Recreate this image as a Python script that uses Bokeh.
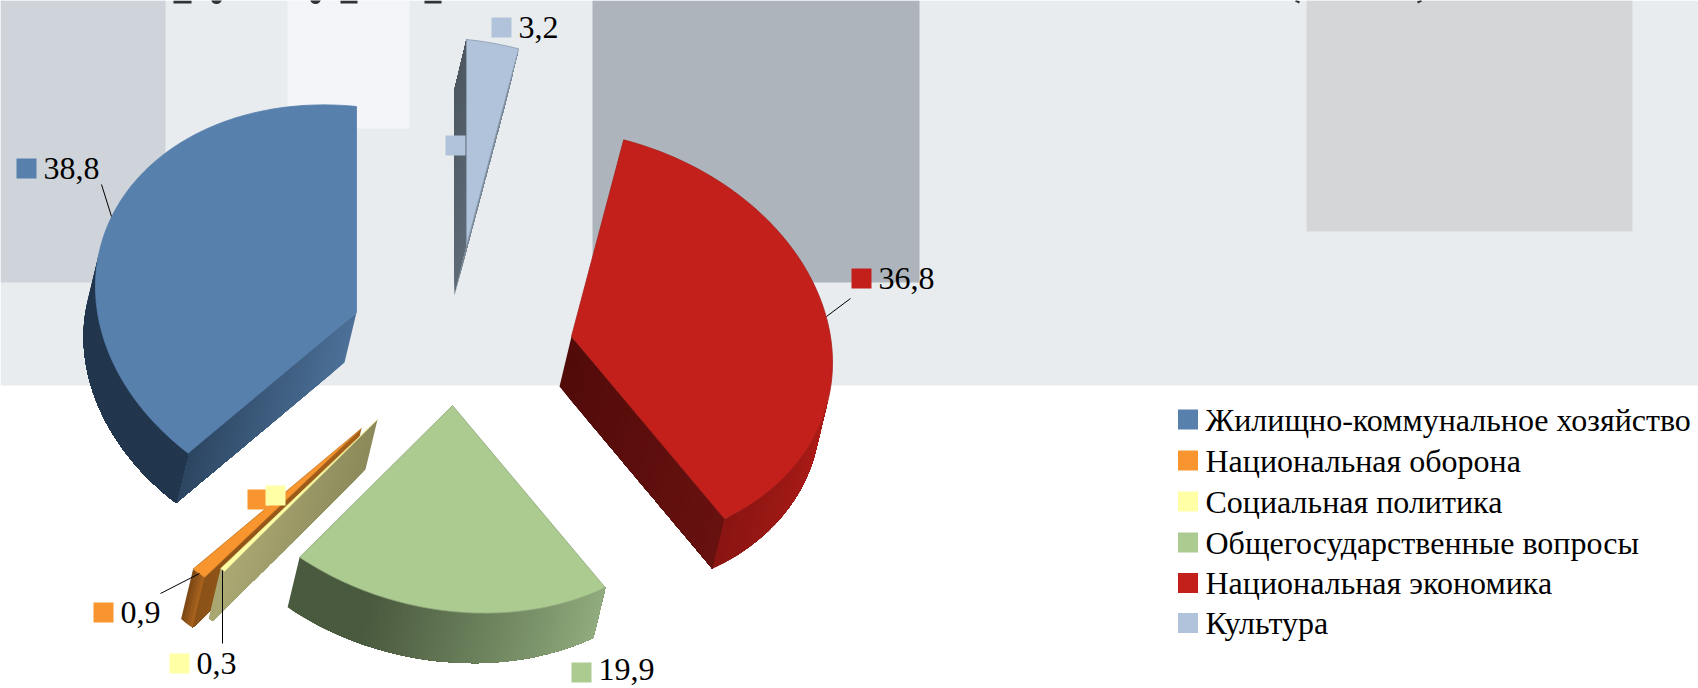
from bokeh.plotting import figure
from bokeh.embed import file_html
from bokeh.resources import INLINE
from bokeh.core.properties import value as bv
import math

categories = ["Жилищно-коммунальное хозяйство", "Национальная оборона", "Социальная политика",
              "Общегосударственные вопросы", "Национальная экономика", "Культура"]
values = [38.8, 0.9, 0.3, 19.9, 36.8, 3.2]
top_colors = ["#5880AD", "#F9952E", "#FFFFA6", "#ACCB90", "#C3201C", "#B0C3DA"]
edge_colors = ["#5880AD", "#C07826", "#E0E090", "#8FA67C", "#A8201C", "#8A9CB0"]

# projection of the tilted pie, px
RX, RY, SKEW = 261, 206, 26
DROP = (-12, 50)
apex_px = [(356, 312), (361, 428), (377, 419), (452, 405), (571, 336), (466, 245)]

# wall shading, (at apex, at rim)
wall_to_last = [("#4C7098", "#2C4560"), ("#A8601B", "#8A5218"), ("#8C8A5A", "#ABA974"),
                ("#3E4E34", "#4A5A3E"), ("#520B09", "#660F0C"), ("#5E6B77", "#4D5761")]
wall_to_first = [("#2E4865", "#2E4865"), ("#7F4A16", "#7F4A16"), ("#A9A772", "#A9A772"),
                 ("#4A5A3E", "#4A5A3E"), ("#520B09", "#681210"), ("#7A8896", "#7A8896")]
# rim shading along the visible arc
arc_walls = [("#22364D", "#22364D"), ("#7F4A16", "#A5601E"), ("#A9A772", "#A9A772"),
             ("#4A5A3E", "#90AB7D"), ("#8A1512", "#B01C18"), ("#7A8896", "#7A8896")]
arc_hold = [0.0, 0.0, 0.0, 0.25, 0.0, 0.0]


def mix(c1, c2, t):
    a = [int(c1[i:i + 2], 16) for i in (1, 3, 5)]
    b = [int(c2[i:i + 2], 16) for i in (1, 3, 5)]
    return "#%02x%02x%02x" % tuple(round(p + (q - p) * t) for p, q in zip(a, b))


def proj(theta, ox, oy):
    # theta: clockwise from top
    return (ox + RX * math.sin(theta), oy - RY * math.cos(theta) + SKEW * math.sin(theta))


p = figure(width=1698, height=688, x_range=(0, 1698), y_range=(688, 0), output_backend="svg",
           toolbar_location=None, x_axis_location=None, y_axis_location=None, min_border=0,
           outline_line_color=None, background_fill_color="white")
p.grid.visible = False

# background panels
p.quad(left=[0], right=[1698], top=[0], bottom=[385], fill_color="#E8ECEF", line_color=None)
p.quad(left=[0], right=[165], top=[0], bottom=[282], fill_color="#CFD4DA", line_color=None)
p.quad(left=[287], right=[409], top=[0], bottom=[128], fill_color="#F4F5F9", line_color=None)
p.quad(left=[592], right=[919], top=[0], bottom=[282], fill_color="#ADB4BB", line_color=None)
p.quad(left=[1306], right=[1632], top=[0], bottom=[231], fill_color="#D5D6D8", line_color=None)

# remnants of a title cut off by the top edge
INK = "#2F3338"
p.quad(left=[173, 340, 424], right=[191, 357, 441], top=[0, 0, 0], bottom=[3, 3, 3], fill_color=INK, line_color=None)
p.scatter([216, 315], [-2, -2], size=11, marker="circle", fill_color=INK, line_color=None)
p.line([1295, 1299], [0, 2], line_color=INK, line_width=2)
p.line([1421, 1417], [0, 2], line_color=INK, line_width=2)

total = sum(values)
start = 0.0
slices = []
for i, v in enumerate(values):
    # slices run counter-clockwise from the top
    sweep = v / total * 2 * math.pi
    slices.append((i, -start, -(start + sweep)))
    start += sweep


def faces(a, b):
    dx, dy = b[0] - a[0], b[1] - a[1]
    return -dy * DROP[0] + dx * DROP[1] > 0


order = [0, 5, 4, 1, 2, 3]
STRIPS = 48
for i in order:
    _, t0, t1 = slices[i]
    ox, oy = apex_px[i]
    n = max(4, int(abs(t1 - t0) / math.radians(1)))
    arc = [proj(t0 + (t1 - t0) * k / n, ox, oy) for k in range(n + 1)]

    def quad_wall(points, col, xs, ys, cs):
        # band running along a point path, dropped by the pie's thickness
        xs.append([q[0] for q in points] + [q[0] + DROP[0] for q in reversed(points)])
        ys.append([q[1] for q in points] + [q[1] + DROP[1] for q in reversed(points)])
        cs.append(col)

    xs, ys, cs = [], [], []

    def add_edge(a0, a1, c):
        pts = [(a0[0] + (a1[0] - a0[0]) * k / STRIPS, a0[1] + (a1[1] - a0[1]) * k / STRIPS)
               for k in range(STRIPS + 1)]
        # each band reaches to the end, later ones paint over it: no seams
        for k in range(STRIPS):
            quad_wall(pts[k:], mix(*c, k / STRIPS), xs, ys, cs)

    a0, a1, aN = (ox, oy), arc[0], arc[-1]
    if faces(aN, a0):
        add_edge(a0, aN, wall_to_last[i])
    if faces(a0, a1):
        add_edge(a0, a1, wall_to_first[i])
    vis = [k for k in range(n) if faces(arc[k], arc[k + 1])]
    if i in (4,):
        # rim starts at the red slice's corner
        pass
    runs = vis[::-1] if False else vis
    for idx in range(len(runs)):
        u = idx / max(1, len(runs) - 1)
        u = max(0.0, (u - arc_hold[i]) / (1 - arc_hold[i]))
        seg = runs[idx:]
        pts = [arc[k] for k in seg] + [arc[seg[-1] + 1]]
        quad_wall(pts, mix(*arc_walls[i], u), xs, ys, cs)
    if xs:
        p.patches(xs, ys, fill_color=cs, line_color=None)
    p.patch([ox] + [q[0] for q in arc], [oy] + [q[1] for q in arc],
            fill_color=top_colors[i], line_color=edge_colors[i], line_width=0.8)

FONT = bv("Liberation Serif")
# data labels
label_mark = [(26, 168), (103, 612), (179, 663), (581, 672), (861, 278), (501, 27)]
text_shift = [0, 0, 0, -3, 0, 0]
stray_mark = [None, (257, 499), (275, 495), None, None, (455, 145)]
leaders = [((101, 184), (111, 216)), ((160, 593), (199, 573)), ((222, 570), (222, 643)), None,
           ((850, 298), (826, 316)), None]
for i, v in enumerate(values):
    mx, my = label_mark[i]
    p.rect([mx], [my], 20, 20, fill_color=top_colors[i], line_color=None)
    p.text([mx + 17], [my + text_shift[i]], text=[str(v).replace(".", ",")], text_font=FONT, text_font_size="32px",
           text_baseline="middle", text_align="left", text_color="#000000")
    if stray_mark[i]:
        p.rect([stray_mark[i][0]], [stray_mark[i][1]], 20, 20, fill_color=top_colors[i], line_color=None)
    if leaders[i]:
        (a, b), (c, d) = leaders[i]
        p.line([a, c], [b, d], line_color="#000000", line_width=1)

# legend
legend_y = [419, 460, 501, 542, 582.5, 622.5]
for i, name in enumerate(categories):
    p.rect([1187.5], [legend_y[i]], 20, 20, fill_color=top_colors[i], line_color=None)
    p.text([1205], [legend_y[i]], text=[name], text_font=FONT, text_font_size="32px",
           text_baseline="middle", text_align="left", text_color="#000000")

open("out.html", "w").write(file_html(p, INLINE))
